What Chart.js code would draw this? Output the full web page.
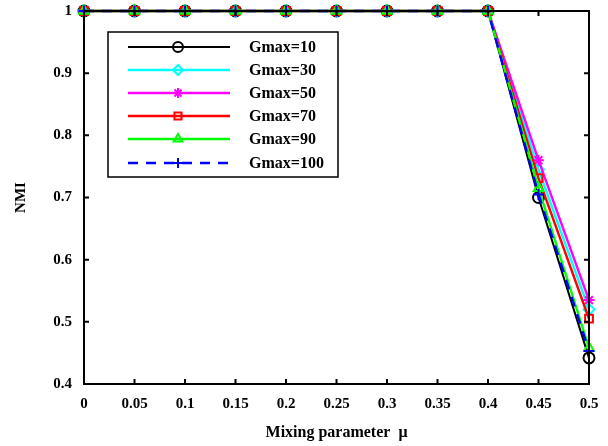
<!DOCTYPE html>
<html>
<head>
<meta charset="utf-8">
<script src="https://cdn.jsdelivr.net/npm/chart.js@4/dist/chart.umd.min.js"></script>
<style>
	html, body { margin: 0; padding: 0; background: #fff; }
	#wrap { width: 608px; height: 446px; }
</style>
</head>
<body>
<div id="wrap"><canvas id="chart" width="608" height="446"></canvas></div>
<script>
// Chart values
var mu = [0, 0.05, 0.1, 0.15, 0.2, 0.25, 0.3, 0.35, 0.4, 0.45, 0.5];
var gmax10  = [1, 1, 1, 1, 1, 1, 1, 1, 1, 0.700, 0.442];
var gmax30  = [1, 1, 1, 1, 1, 1, 1, 1, 1, 0.745, 0.520];
var gmax50  = [1, 1, 1, 1, 1, 1, 1, 1, 1, 0.760, 0.535];
var gmax70  = [1, 1, 1, 1, 1, 1, 1, 1, 1, 0.731, 0.505];
var gmax90  = [1, 1, 1, 1, 1, 1, 1, 1, 1, 0.715, 0.458];
var gmax100 = [1, 1, 1, 1, 1, 1, 1, 1, 1, 0.705, 0.453];
var seriesLabels = ["Gmax=10", "Gmax=30", "Gmax=50", "Gmax=70", "Gmax=90", "Gmax=100"];
var xTicks = [0, 0.05, 0.1, 0.15, 0.2, 0.25, 0.3, 0.35, 0.4, 0.45, 0.5];
var yTicks = [0.4, 0.5, 0.6, 0.7, 0.8, 0.9, 1];

var FONT = "'Liberation Serif', 'Times New Roman', serif";

// turn x/y arrays into point objects
function toPoints(ys) {
	return ys.map(function (y, i) { return { x: mu[i], y: y }; });
}

function makeSet(label, ys, color, style, dash, width, order) {
	return {
		label: label,
		data: toPoints(ys),
		borderColor: color,
		backgroundColor: 'rgba(0,0,0,0)',
		borderWidth: width,
		borderDash: dash,
		pointStyle: style,
		pointRadius: 5.5,
		pointBorderWidth: 2,
		pointBorderColor: color,
		pointBackgroundColor: 'rgba(0,0,0,0)',
		tension: 0,
		clip: false,
		order: order
	};
}

// later series sit on top, as in the reference
var datasets = [
	makeSet(seriesLabels[0], gmax10, '#000000', 'circle', [], 2, 6),
	makeSet(seriesLabels[1], gmax30, '#00ffff', 'rectRot', [], 2.4, 5),
	makeSet(seriesLabels[2], gmax50, '#ff00ff', 'star', [], 2.4, 4),
	makeSet(seriesLabels[3], gmax70, '#ff0000', 'rect', [], 2.4, 3),
	makeSet(seriesLabels[4], gmax90, '#00ff00', 'triangle', [], 2.4, 2),
	makeSet(seriesLabels[5], gmax100, '#0000ff', 'cross', [10, 8], 2.4, 1)
];

// frame around the plot plus inward ticks on all four sides
var framePlugin = {
	id: 'frame',
	afterDatasetsDraw: function (chart) {
		var ctx = chart.ctx, a = chart.chartArea;
		var xs = chart.scales.x, ys = chart.scales.y;
		var len = 5;
		ctx.save();
		ctx.strokeStyle = '#000';
		ctx.lineWidth = 2;
		ctx.strokeRect(a.left, a.top, a.right - a.left, a.bottom - a.top);
		ctx.beginPath();
		xTicks.forEach(function (v) {
			var px = xs.getPixelForValue(v);
			ctx.moveTo(px, a.bottom); ctx.lineTo(px, a.bottom - len);
			ctx.moveTo(px, a.top); ctx.lineTo(px, a.top + len);
		});
		yTicks.forEach(function (v) {
			var py = ys.getPixelForValue(v);
			ctx.moveTo(a.left, py); ctx.lineTo(a.left + len, py);
			ctx.moveTo(a.right, py); ctx.lineTo(a.right - len, py);
		});
		ctx.stroke();
		ctx.restore();
	}
};

// boxed legend inside the plot, top left
var legendPlugin = {
	id: 'boxLegend',
	afterDraw: function (chart) {
		var ctx = chart.ctx;
		var box = { x: 108, y: 32, w: 230, h: 145 };
		var rowY = [47, 70, 93, 116, 139, 163];
		ctx.save();
		ctx.fillStyle = '#fff';
		ctx.fillRect(box.x, box.y, box.w, box.h);
		ctx.strokeStyle = '#000';
		ctx.lineWidth = 1.5;
		ctx.strokeRect(box.x, box.y, box.w, box.h);
		chart.data.datasets.forEach(function (ds, i) {
			var y = rowY[i];
			ctx.beginPath();
			ctx.strokeStyle = ds.borderColor;
			ctx.lineWidth = ds.borderWidth;
			ctx.setLineDash(ds.borderDash);
			ctx.moveTo(128, y);
			ctx.lineTo(230, y);
			ctx.stroke();
			ctx.setLineDash([]);
			ctx.strokeStyle = ds.borderColor;
			ctx.fillStyle = 'rgba(0,0,0,0)';
			ctx.lineWidth = 2;
			Chart.helpers.drawPoint(ctx, { pointStyle: ds.pointStyle, radius: 5, rotation: 0, borderWidth: 2 }, 178, y);
			ctx.fillStyle = '#000';
			ctx.font = 'bold 16px ' + FONT;
			ctx.textAlign = 'left';
			ctx.textBaseline = 'middle';
			ctx.fillText(ds.label, 249, y + 1);
		});
		ctx.restore();
	}
};

new Chart(document.getElementById('chart'), {
	type: 'line',
	data: { datasets: datasets },
	plugins: [framePlugin, legendPlugin],
	options: {
		responsive: false,
		animation: false,
		layout: { padding: { left: 0, right: 19, top: 11, bottom: 0 } },
		plugins: {
			legend: { display: false },
			tooltip: { enabled: false }
		},
		scales: {
			x: {
				type: 'linear',
				min: 0,
				max: 0.5,
				afterBuildTicks: function (scale) {
					scale.ticks = xTicks.map(function (v) { return { value: v }; });
				},
				afterFit: function (scale) {
					scale.height = 62;
					scale.paddingLeft = 0;
					scale.paddingRight = 0;
				},
				grid: { display: false, drawTicks: false },
				border: { display: false },
				ticks: {
					color: '#000',
					padding: 11,
					maxRotation: 0,
					autoSkip: false,
					font: { family: FONT, size: 15, weight: 'bold' },
					callback: function (v) { return String(v); }
				},
				title: {
					display: true,
					text: 'Mixing parameter  μ',
					color: '#000',
					padding: { top: 0, bottom: 4 },
					font: { family: FONT, size: 16, weight: 'bold' }
				}
			},
			y: {
				min: 0.4,
				max: 1,
				afterBuildTicks: function (scale) {
					scale.ticks = yTicks.map(function (v) { return { value: v }; });
				},
				afterFit: function (scale) {
					scale.width = 84;
					scale.paddingTop = 0;
					scale.paddingBottom = 0;
				},
				grid: { display: false, drawTicks: false },
				border: { display: false },
				ticks: {
					color: '#000',
					padding: 12,
					autoSkip: false,
					font: { family: FONT, size: 15, weight: 'bold' },
					callback: function (v) { return String(v); }
				},
				title: {
					display: true,
					text: 'NMI',
					color: '#000',
					padding: { top: 12, bottom: 0 },
					font: { family: FONT, size: 15, weight: 'bold' }
				}
			}
		}
	}
});
</script>
</body>
</html>
